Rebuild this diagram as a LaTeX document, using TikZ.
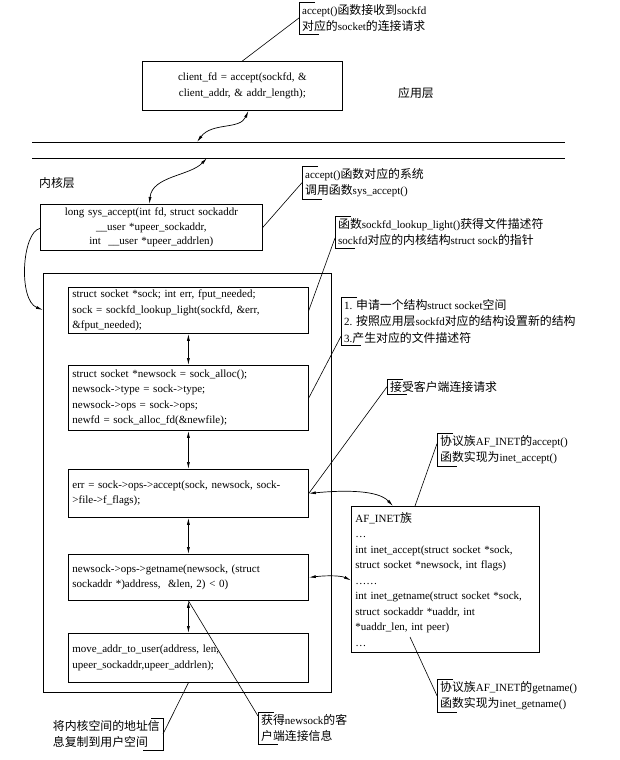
\documentclass[tikz,border=0pt]{standalone}
\usepackage{fontspec}
\setmainfont{Liberation Serif}
\newfontfamily\cjk[Scale=1.08]{Noto Sans CJK SC}
\newcommand{\zh}[1]{{\cjk #1}}
\usetikzlibrary{arrows.meta}
\begin{document}
\begin{tikzpicture}[x=1pt,y=-1pt,
  base/.style={font=\fontsize{11pt}{15.5pt}\selectfont},
  codebox/.style={base,draw,line width=0.8pt,anchor=north west,align=left,inner xsep=4pt,inner ysep=0pt},
  cbox/.style={base,draw,line width=0.8pt,anchor=north west,align=center,inner xsep=4pt,inner ysep=0pt},
  note/.style={base,anchor=north west,align=left,inner xsep=3pt,inner ysep=2pt,font=\fontsize{11pt}{16.5pt}\selectfont},
  lbl/.style={base,inner sep=0pt},
  lead/.style={line width=0.6pt},
  dar/.style={line width=0.7pt,{Latex[length=7pt,width=3pt]}-{Latex[length=7pt,width=3pt]}},
  sar/.style={line width=0.7pt,-{Latex[length=7pt,width=3pt]}},
  brk/.style={line width=0.7pt}
]
\useasboundingbox (0,0) rectangle (620,760);

% layer separators
\coordinate (l1a) at (32,142); \coordinate (l1b) at (565,142);
\coordinate (l2a) at (32,158); \coordinate (l2b) at (565,158);
\draw[line width=0.8pt] (l1a) -- (l1b);
\draw[line width=0.8pt] (l2a) -- (l2b);
\coordinate (p1) at (197,142);
\coordinate (p2) at (207,158);

\node[lbl] (applayer) at (416,93) {\zh{应用层}};
\node[lbl] (kernlayer) at (57,183) {\zh{内核层}};

% boxes
\node[cbox,text width=192pt,minimum width=200pt,minimum height=49pt] (app) at (142,61)
  {client\_fd = accept(sockfd, \&\\client\_addr, \& addr\_length);};
\node[cbox,text width=214pt,minimum width=222pt,minimum height=46pt,font=\fontsize{11pt}{14.5pt}\selectfont] (sys) at (40,204)
  {long sys\_accept(int fd, struct sockaddr\\\_\_user *upeer\_sockaddr,\\int \ \_\_user *upeer\_addrlen)};
\node[draw,line width=0.8pt,anchor=north west,minimum width=288pt,minimum height=419pt,inner sep=0pt] (outer) at (43,273) {};

\node[codebox,text width=232pt,minimum width=240pt,minimum height=46pt] (b1) at (68,287)
  {struct socket *sock; int err, fput\_needed;\\sock = sockfd\_lookup\_light(sockfd, \&err,\\\&fput\_needed);};
\node[codebox,text width=232pt,minimum width=240pt,minimum height=65pt] (b2) at (68,365)
  {struct socket *newsock = sock\_alloc();\\newsock->type = sock->type;\\newsock->ops = sock->ops;\\newfd = sock\_alloc\_fd(\&newfile);};
\node[codebox,text width=232pt,minimum width=240pt,minimum height=48pt] (b3) at (68,469)
  {err = sock->ops->accept(sock, newsock, sock-\\>file->f\_flags);};
\node[codebox,text width=232pt,minimum width=240pt,minimum height=46pt] (b4) at (68,554)
  {newsock->ops->getname(newsock, (struct\\sockaddr *)address, \ \&len, 2) < 0)};
\node[codebox,text width=232pt,minimum width=240pt,minimum height=49pt] (b5) at (68,633)
  {move\_addr\_to\_user(address, len,\\upeer\_sockaddr,upeer\_addrlen);};

\node[codebox,text width=180pt,minimum width=188pt,minimum height=146pt] (af) at (351,506)
  {AF\_INET\zh{族}\\…\\int inet\_accept(struct socket *sock,\\struct socket *newsock, int flags)\\……\\int inet\_getname(struct socket *sock,\\struct sockaddr *uaddr, int\\\relax *uaddr\_len, int peer)\\…};

% notes
\node[note] (n1) at (299,2) {accept()\zh{函数接收到}sockfd\\\zh{对应的}socket\zh{的连接请求}};
\node[note] (n2) at (302,166) {accept()\zh{函数对应的系统}\\\zh{调用函数}sys\_accept()};
\node[note] (n3) at (335,216) {\zh{函数}sockfd\_lookup\_light()\zh{获得文件描述符}\\sockfd\zh{对应的内核结构}struct sock\zh{的指针}};
\node[note] (n4) at (341,297) {1. \zh{申请一个结构}struct socket\zh{空间}\\2. \zh{按照应用层}sockfd\zh{对应的结构设置新的结构}\\3.\zh{产生对应的文件描述符}};
\node[note] (n5) at (387,379) {\zh{接受客户端连接请求}};
\node[note] (n6) at (437,433) {\zh{协议族}AF\_INET\zh{的}accept()\\\zh{函数实现为}inet\_accept()};
\node[note] (n7) at (258,712) {\zh{获得}newsock\zh{的客}\\\zh{户端连接信息}};
\node[note,anchor=north east] (n8) at (163,718) {\zh{将内核空间的地址信}\\\zh{息复制到用户空间}};
\node[note] (n9) at (437,679) {\zh{协议族}AF\_INET\zh{的}getname()\\\zh{函数实现为}inet\_getname()};

% brackets
\foreach \n in {n1,n2,n3,n4,n5,n6,n7,n9}{
  \draw[brk] ([xshift=16pt]\n.north west) -- (\n.north west) -- (\n.south west) -- ([xshift=20pt]\n.south west);
}
\draw[brk] ([xshift=-12pt]n8.north east) -- (n8.north east) -- (n8.south east) -- ([xshift=-20pt]n8.south east);

% leaders
\draw[lead] (n1.west) -- (app.north);
\draw[lead] (n2.west) -- (sys.east);
\draw[lead] ([yshift=-6pt]n3.west) -- (b1.east);
\draw[lead] ([yshift=-15pt]n4.west) -- (b2.east);
\draw[lead] (n5.west) -- (b3.east);
\draw[lead] ([yshift=6pt]n6.west) -- ([xshift=64pt]af.north west);
\draw[lead] ([yshift=12pt]n7.west) -- (b4.south);
\draw[lead] (n8.east) -- (b5.south);
\coordinate (afin) at (410,637);
\draw[lead] (n9.west) -- (afin);

% arrows
\draw[dar] ([xshift=6pt]app.south) .. controls (240,130) and (212,122) .. (p1);
\draw[dar] (p2) .. controls (190,176) and (152,176) .. ([xshift=-2pt]sys.north);
\draw[sar] ([yshift=-1pt]sys.west) .. controls (22,232) and (18,300) .. ([yshift=-37pt]outer.north west);
\draw[dar] (b1.south) -- (b2.north);
\draw[dar] (b2.south) -- (b3.north);
\draw[dar] (b3.south) -- (b4.north);
\draw[dar] (b4.south) -- (b5.north);
\draw[dar] (b3.east) .. controls (345,490) and (378,490) .. ([xshift=42pt]af.north west);
\draw[dar] (b4.east) .. controls (330,575) and (342,576) .. ([yshift=-1pt]af.west);
\end{tikzpicture}
\end{document}
